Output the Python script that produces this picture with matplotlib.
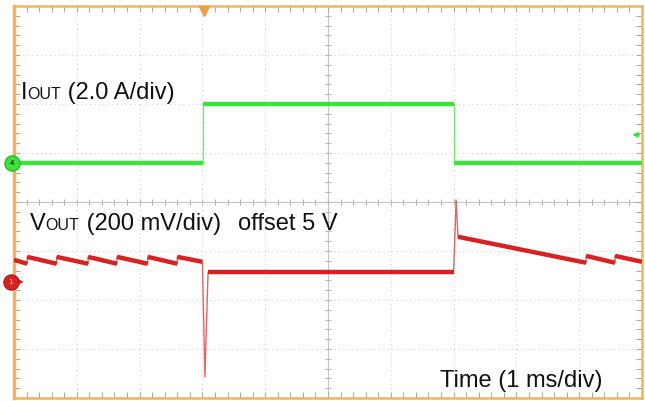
import matplotlib.pyplot as plt
import numpy as np

# time axis in ms (1 ms/div), levels in screen divisions (0 = bottom, 8 = top)
iout_t = [0.0, 3.01, 3.01, 7.0, 7.0, 10.0]
iout_v = [4.8, 4.8, 6.0, 6.0, 4.8, 4.8]

vout_t = [0.0, 0.21, 0.21, 0.68, 0.68, 1.18, 1.18, 1.64, 1.64, 2.13, 2.13,
          2.60, 2.60, 3.0, 3.04, 3.09, 7.0, 7.04, 7.07, 9.11, 9.11, 9.57,
          9.57, 10.0]
vout_v = [2.82, 2.74, 2.88, 2.74, 2.88, 2.74, 2.88, 2.74, 2.88, 2.74, 2.88,
          2.74, 2.88, 2.78, 0.43, 2.57, 2.57, 4.04, 3.29, 2.76, 2.90, 2.76,
          2.90, 2.78]

# channel markers (level in divisions)
ch4_level = 4.8
ch1_level = 2.37
ch4_ref = 5.37
trig_t = 3.03

W, H = 645, 401
GREEN = '#3ae43a'
RED = '#d82222'
ORANGE = '#f0b45c'
FONT = 'Liberation Sans'

fig = plt.figure(figsize=(W / 100, H / 100), dpi=100)
ax = fig.add_axes([14 / W, 3 / H, 628 / W, 392 / H])
ax.set_xlim(0, 10)
ax.set_ylim(0, 8)

# graticule
for i in range(1, 10):
    if i != 5:
        ax.axvline(i, color='#cfcfcf', lw=0.8, ls=(0, (1, 3)), zorder=1)
for j in range(1, 8):
    if j != 4:
        ax.axhline(j, color='#cfcfcf', lw=0.8, ls=(0, (1, 3)), zorder=1)
ax.axvline(5, color='#c4c4c4', lw=0.8, zorder=1)
ax.axhline(4, color='#c4c4c4', lw=0.8, zorder=1)
xs = np.arange(0, 10.01, 0.2)
ys = np.arange(0, 8.01, 0.2)
ax.plot(xs, np.full(len(xs), 4.0), ls='none', marker='|', ms=5, mew=0.8,
        color='#b8b8b8', zorder=1)
ax.plot(np.full(len(ys), 5.0), ys, ls='none', marker='_', ms=5, mew=0.8,
        color='#b8b8b8', zorder=1)

ax.set_xticks(np.arange(0, 11, 1))
ax.set_yticks(np.arange(0, 9, 1))
ax.set_xticks(xs, minor=True)
ax.set_yticks(ys, minor=True)
ax.tick_params(which='both', direction='in', length=4, width=0.8,
               color='#aaaaaa', top=True, right=True,
               labelbottom=False, labelleft=False)
for side, sp in ax.spines.items():
    sp.set_color(ORANGE)
    sp.set_linewidth(2.5 if side == 'left' else 1.8)


def trace(t, v, color):
    # thin line everywhere, thick (noisy) band on the slow parts
    ax.plot(t, v, color=color, lw=1.0, alpha=0.7, zorder=3)
    for k in range(len(t) - 1):
        if t[k + 1] - t[k] >= 0.1:
            ax.plot(t[k:k + 2], v[k:k + 2], color=color, lw=3.2,
                    solid_capstyle='butt', zorder=4)


trace(iout_t, iout_v, GREEN)
trace(vout_t, vout_v, RED)

# channel / trigger markers
ax.plot(-0.035, ch4_level, 'o', ms=11, mfc=GREEN, mec='#1fb01f', mew=0.8,
        clip_on=False, zorder=10)
ax.text(-0.035, ch4_level, '4', fontsize=5, ha='center', va='center',
        zorder=11, clip_on=False)
ax.annotate('', xy=(0.2, ch1_level), xytext=(0.0, ch1_level),
            arrowprops=dict(arrowstyle='-|>', color=RED, lw=1.2,
                            mutation_scale=8), annotation_clip=False, zorder=9)
ax.plot(-0.05, ch1_level, 'o', ms=11, mfc=RED, mec='#a01818', mew=0.8,
        clip_on=False, zorder=10)
ax.text(-0.05, ch1_level, '1', fontsize=5, ha='center', va='center',
        color='#ffdddd', zorder=11, clip_on=False)
ax.annotate('', xy=(9.8, ch4_ref), xytext=(10.0, ch4_ref),
            arrowprops=dict(arrowstyle='-|>', color=GREEN, lw=1.2,
                            mutation_scale=7), annotation_clip=False, zorder=9)
ax.plot(trig_t, 7.9, 'v', ms=7, color='#f0a040', clip_on=False, zorder=10)

renderer = fig.canvas.get_renderer()


def label(x_px, y_px, parts):
    # parts: (text, fontsize) placed one after another on a common baseline
    x = x_px
    for txt, size in parts:
        t = fig.text(x / W, 1 - y_px / H, txt, fontsize=size, family=FONT,
                     va='baseline', ha='left', color='#111111')
        x = t.get_window_extent(renderer=renderer).x1


label(21, 99, [('I', 17), ('OUT', 11.5), (' (2.0 A/div)', 17)])
label(30, 230, [('V', 17), ('OUT', 11.5), (' (200 mV/div)', 17)])
label(238, 230, [('offset 5 V', 17)])
label(440, 387, [('Time (1 ms/div)', 17)])

fig.savefig('out.png', dpi=100, facecolor='white')
